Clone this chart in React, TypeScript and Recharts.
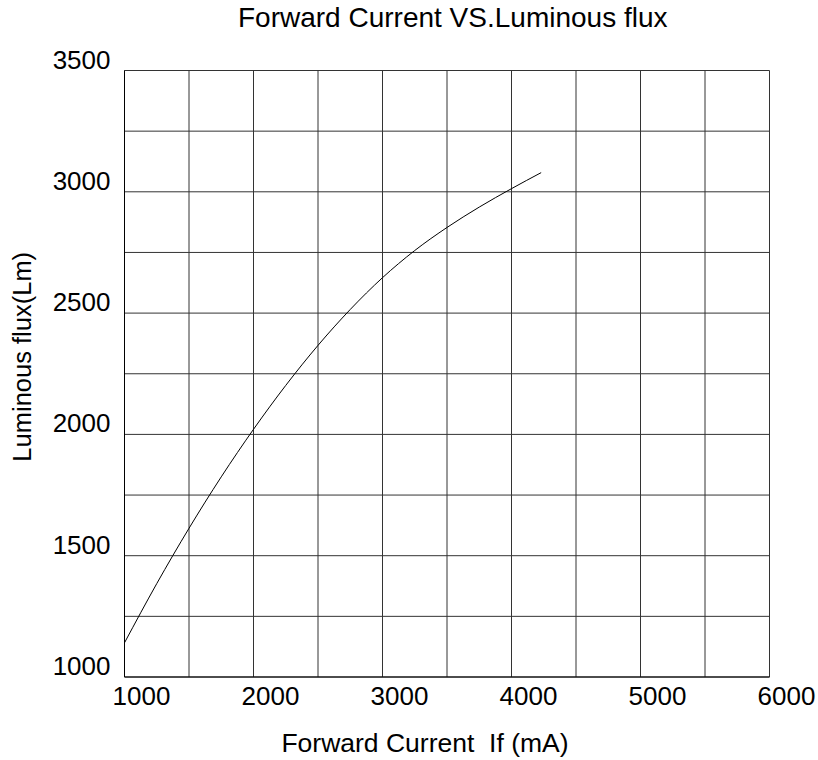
import { CartesianGrid, Label, Line, LineChart, XAxis, YAxis } from "recharts";

const FONT = '"Liberation Sans", Arial, sans-serif';

// forward current (mA) and luminous flux (lm)
const current = [1000, 1250, 1500, 1750, 2000, 2250, 2500, 2750, 3000, 3250, 3500, 3750, 4000, 4230];
const flux = [1141, 1385, 1613, 1825, 2021, 2202, 2367, 2515, 2646, 2758, 2853, 2937, 3013, 3079];

const xTicks = [1000, 1500, 2000, 2500, 3000, 3500, 4000, 4500, 5000, 5500, 6000];
const yTicks = [1000, 1250, 1500, 1750, 2000, 2250, 2500, 2750, 3000, 3250, 3500];

const data = current.map((c, i) => ({ current: c, flux: flux[i] }));

function XTick({ x, y, payload }: any) {
  if (payload.value % 1000 !== 0) return null;
  return (
    <text x={x + 17} y={y + 28} textAnchor="middle" fontSize={26} fontFamily={FONT} fill="#000">
      {payload.value}
    </text>
  );
}

function YTick({ x, y, payload }: any) {
  if (payload.value % 500 !== 0) return null;
  return (
    <text x={x - 14} y={y - 2} textAnchor="end" fontSize={26} fontFamily={FONT} fill="#000">
      {payload.value}
    </text>
  );
}

function XTitle({ viewBox }: any) {
  return (
    <text
      x={viewBox.x + viewBox.width / 2 - 22}
      y={viewBox.y + 75}
      textAnchor="middle"
      fontSize={26.5}
      fontFamily={FONT}
      fill="#000"
      style={{ whiteSpace: "pre" }}
    >
      {"Forward Current  If (mA)"}
    </text>
  );
}

function YTitle({ viewBox }: any) {
  const cx = 31;
  const cy = viewBox.y + viewBox.height / 2 - 17;
  return (
    <text
      x={cx}
      y={cy}
      transform={`rotate(-90 ${cx} ${cy})`}
      textAnchor="middle"
      fontSize={25.5}
      fontFamily={FONT}
      fill="#000"
    >
      Luminous flux(Lm)
    </text>
  );
}

export default function App() {
  return (
    <div style={{ position: "absolute", left: 0, top: 0, width: 818, height: 760, background: "#fff" }}>
      <div
        style={{
          position: "absolute",
          left: 238,
          top: 2,
          fontSize: 28,
          fontFamily: FONT,
          color: "#000",
          whiteSpace: "nowrap",
        }}
      >
        Forward Current VS.Luminous flux
      </div>
      <LineChart width={818} height={760} data={data} margin={{ top: 70.5, right: 48.5, bottom: 23, left: 64.5 }}>
        <CartesianGrid stroke="#333" strokeWidth={1} />
        <XAxis
          dataKey="current"
          type="number"
          domain={[1000, 6000]}
          ticks={xTicks}
          interval={0}
          height={60}
          tickSize={0}
          tickMargin={0}
          tickLine={false}
          axisLine={{ stroke: "#000" }}
          tick={<XTick />}
        >
          <Label content={<XTitle />} />
        </XAxis>
        <YAxis
          dataKey="flux"
          type="number"
          domain={[1000, 3500]}
          ticks={yTicks}
          interval={0}
          width={60}
          tickSize={0}
          tickMargin={0}
          tickLine={false}
          axisLine={{ stroke: "#000" }}
          tick={<YTick />}
        >
          <Label content={<YTitle />} />
        </YAxis>
        <Line
          dataKey="flux"
          type="monotone"
          stroke="#000"
          strokeWidth={1}
          dot={false}
          activeDot={false}
          isAnimationActive={false}
        />
      </LineChart>
    </div>
  );
}
